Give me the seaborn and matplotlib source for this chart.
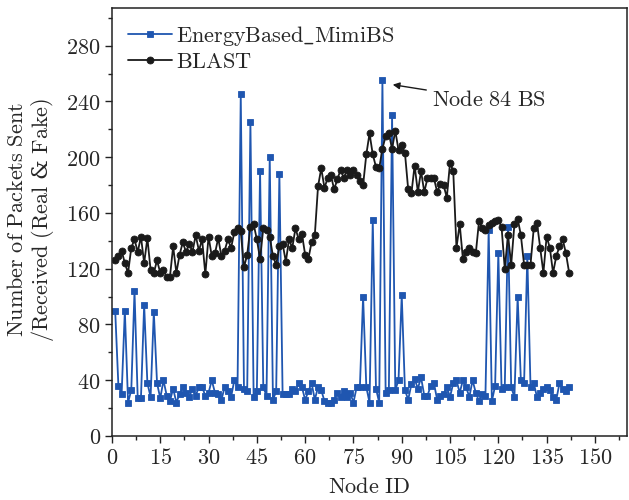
import numpy as np
import pandas as pd
import matplotlib
matplotlib.use("Agg")
import matplotlib.pyplot as plt
from matplotlib.ticker import MultipleLocator
import seaborn as sns

# values
node_ids = list(range(1, 143))

energy_mimibs = [
    90, 36, 30, 90, 24, 33, 104, 27, 27, 94,
    38, 28, 89, 38, 27, 40, 29, 25, 34, 24,
    30, 35, 31, 28, 34, 29, 35, 35, 29, 31,
    40, 31, 30, 26, 35, 32, 28, 40, 35, 245,
    34, 32, 225, 28, 32, 190, 35, 29, 200, 26,
    32, 188, 30, 30, 30, 34, 32, 38, 35, 26,
    32, 38, 26, 35, 33, 25, 24, 24, 26, 31,
    28, 32, 28, 31, 24, 35, 35, 100, 35, 24,
    155, 34, 24, 255, 31, 33, 230, 33, 40, 101,
    33, 26, 37, 41, 34, 42, 29, 29, 36, 38,
    26, 29, 30, 35, 28, 38, 40, 31, 40, 35,
    28, 40, 31, 25, 30, 29, 148, 25, 36, 131,
    34, 35, 150, 35, 28, 100, 40, 38, 129, 35,
    38, 28, 31, 34, 35, 33, 28, 26, 38, 34,
    32, 35,
]

blast = [
    126, 129, 133, 124, 117, 135, 141, 132, 143, 124,
    142, 119, 117, 126, 117, 119, 114, 114, 136, 117,
    130, 139, 132, 138, 132, 144, 133, 141, 116, 143,
    129, 131, 142, 129, 133, 141, 135, 146, 149, 147,
    121, 130, 150, 152, 141, 127, 149, 148, 143, 129,
    123, 136, 138, 125, 141, 135, 149, 141, 145, 130,
    127, 139, 144, 179, 192, 178, 185, 187, 177, 184,
    191, 185, 191, 187, 191, 187, 183, 180, 202, 217,
    202, 193, 192, 206, 215, 217, 206, 219, 205, 209,
    203, 177, 174, 194, 175, 190, 175, 185, 185, 185,
    175, 181, 180, 171, 196, 190, 135, 152, 127, 132,
    135, 132, 131, 154, 149, 148, 151, 153, 154, 155,
    150, 120, 144, 123, 152, 156, 144, 123, 123, 123,
    149, 153, 135, 117, 143, 135, 117, 129, 136, 141,
    131, 117,
]

df = pd.DataFrame({"node": node_ids, "mimibs": energy_mimibs, "blast": blast})

sns.set_style("ticks")
plt.rcParams["mathtext.fontset"] = "cm"
plt.rcParams["font.family"] = ["DejaVu Serif"]

blue = "#1f56b0"
fs = 16

fig = plt.figure(figsize=(6.29, 5.0), dpi=100)
ax = fig.add_axes([0.178, 0.128, 0.819, 0.856])

sns.lineplot(data=df, x="node", y="mimibs", ax=ax, color=blue, lw=1.3,
             marker="s", markersize=4.8, markeredgecolor=blue, markeredgewidth=0.6,
             label=r"$\mathrm{EnergyBased\_MimiBS}$")
sns.lineplot(data=df, x="node", y="blast", ax=ax, color="#1a1a1a", lw=1.3,
             marker="o", markersize=5, markeredgecolor="#1a1a1a", markeredgewidth=0.6,
             label=r"$\mathrm{BLAST}$")

ax.set_xlim(0, 160)
ax.set_ylim(0, 307)
ax.xaxis.set_minor_locator(MultipleLocator(7.5))
ax.yaxis.set_minor_locator(MultipleLocator(20))

ax.set_xticks(np.arange(0, 151, 15))
ax.set_xticklabels([r"$%d$" % v for v in np.arange(0, 151, 15)])
ax.set_yticks(np.arange(0, 281, 40))
ax.set_yticklabels([r"$%d$" % v for v in np.arange(0, 281, 40)])

ax.tick_params(which="major", direction="out", length=5, width=1, labelsize=fs,
               color="#222222", pad=3)
ax.tick_params(which="minor", direction="out", length=3, width=1, color="#222222")
for s in ax.spines.values():
    s.set_linewidth(1.1)
    s.set_color("#222222")

ax.set_xlabel(r"$\mathrm{Node\ ID}$", fontsize=fs, labelpad=5)
ax.set_ylabel("")
# two-line y label, one text per line (mathtext can't span lines)
fig.text(17 / 629, 0.56, r"$\mathrm{Number\ of\ Packets\ Sent}$",
         rotation=90, ha="center", va="center", fontsize=fs)
fig.text(43 / 629, 0.56, r"$\mathrm{/Received\ (Real\ }$&$\mathrm{\ Fake)}$",
         rotation=90, ha="center", va="center", fontsize=fs)

ax.annotate(r"$\mathrm{Node\ 84\ BS}$", xy=(87.2, 252), xytext=(99.5, 241),
            fontsize=fs, va="center", ha="left",
            arrowprops=dict(arrowstyle="-|>", color="#1a1a1a", lw=1.0,
                            shrinkA=2, shrinkB=0, mutation_scale=10))

ax.legend(loc="upper left", frameon=False, fontsize=fs, handlelength=2.0,
          handletextpad=0.2, borderaxespad=0.3, labelspacing=0.15)

fig.savefig("out.png", dpi=100)
